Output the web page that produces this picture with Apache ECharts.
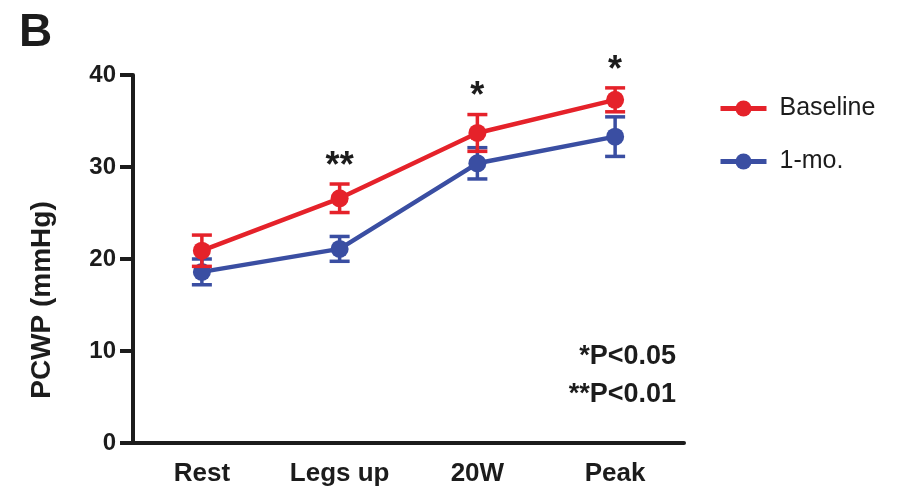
<!DOCTYPE html>
<html><head><meta charset="utf-8">
<script src="https://cdn.jsdelivr.net/npm/echarts@6/dist/echarts.min.js"></script>
<style>html,body{margin:0;padding:0;background:#fff}#c{width:906px;height:487px}</style>
</head><body><div id="c"></div>
<script>
const categories = ['Rest', 'Legs up', '20W', 'Peak'];
const baselineMean = [20.9, 26.6, 33.7, 37.3];
const baselineErr = [1.7, 1.55, 2.0, 1.3];
const monthMean = [18.6, 21.1, 30.4, 33.3];
const monthErr = [1.4, 1.35, 1.7, 2.15];
const sigMarks = ['', '**', '*', '*'];
const seriesNames = ['Baseline', '1-mo.'];
const yMin = 0, yMax = 40, yStep = 10;
const pNotes = ['*P<0.05', '**P<0.01'];
const yTitle = 'PCWP (mmHg)';
const panelLetter = 'B';

const RED = '#e5222a', BLUE = '#3a4ea2', INK = '#1c1c1c';
const FONT = '"Liberation Sans", Arial, sans-serif';

function errData(mean, err) {
  return mean.map((m, i) => [i, m - err[i], m + err[i]]);
}

function makeErrRender(color, withSig) {
  return function (params, api) {
    const i = api.value(0);
    const pTop = api.coord([i, api.value(2)]);
    const pBot = api.coord([i, api.value(1)]);
    const x = pTop[0];
    const hw = 10;
    const st = { stroke: color, lineWidth: 3.5 };
    const children = [
      { type: 'line', shape: { x1: x, y1: pTop[1], x2: x, y2: pBot[1] }, style: st },
      { type: 'line', shape: { x1: x - hw, y1: pTop[1], x2: x + hw, y2: pTop[1] }, style: st },
      { type: 'line', shape: { x1: x - hw, y1: pBot[1], x2: x + hw, y2: pBot[1] }, style: st }
    ];
    if (withSig && sigMarks[i]) {
      children.push({
        type: 'text',
        style: {
          text: sigMarks[i], x: x, y: pTop[1] - 17,
          align: 'center', verticalAlign: 'middle',
          font: 'bold 36px ' + FONT, fill: INK
        }
      });
    }
    return { type: 'group', children: children };
  };
}

const chart = echarts.init(document.getElementById('c'));
chart.setOption({
  animation: false,
  backgroundColor: '#fff',
  grid: { left: 133, right: 222, top: 75, bottom: 44, containLabel: false },
  xAxis: {
    type: 'category',
    data: categories,
    boundaryGap: true,
    axisLine: { lineStyle: { color: INK, width: 4 } },
    axisTick: { alignWithLabel: true, length: 13, lineStyle: { color: INK, width: 4 } },
    axisLabel: { margin: 18, fontSize: 26, fontWeight: 'bold', color: INK, fontFamily: FONT }
  },
  yAxis: {
    type: 'value',
    min: yMin, max: yMax, interval: yStep,
    axisLine: { show: true, lineStyle: { color: INK, width: 4 } },
    axisTick: { show: true, length: 13, lineStyle: { color: INK, width: 4 } },
    axisLabel: { margin: 17, fontSize: 24, fontWeight: 'bold', color: INK, fontFamily: FONT },
    splitLine: { show: false }
  },
  legend: {
    data: seriesNames,
    orient: 'vertical',
    left: 713, top: 91,
    itemWidth: 46, itemHeight: 20, itemGap: 28,
    lineStyle: { width: 5 },
    textStyle: { fontSize: 25, color: INK, fontFamily: FONT, padding: [0, 0, 0, 8] }
  },
  graphic: [
    { type: 'text', left: 19, top: 10, style: { text: panelLetter, font: 'bold 46px ' + FONT, fill: INK } },
    { type: 'text', x: 42, y: 300, rotation: Math.PI / 2,
      style: { text: yTitle, font: 'bold 28px ' + FONT, fill: INK, align: 'center', verticalAlign: 'middle' } },
    { type: 'text', x: 676, y: 357, style: { text: pNotes[0], font: 'bold 27px ' + FONT, fill: INK, align: 'right', verticalAlign: 'middle' } },
    { type: 'text', x: 676, y: 395, style: { text: pNotes[1], font: 'bold 27px ' + FONT, fill: INK, align: 'right', verticalAlign: 'middle' } }
  ],
  series: [
    {
      name: '1-mo. SEM', type: 'custom', renderItem: makeErrRender(BLUE, false),
      data: errData(monthMean, monthErr), encode: { x: 0, y: [1, 2] }, z: 2
    },
    {
      name: seriesNames[1], type: 'line', data: monthMean,
      symbol: 'circle', symbolSize: 18,
      lineStyle: { color: BLUE, width: 4.5 }, itemStyle: { color: BLUE }, z: 3
    },
    {
      name: 'Baseline SEM', type: 'custom', renderItem: makeErrRender(RED, true),
      data: errData(baselineMean, baselineErr), encode: { x: 0, y: [1, 2] }, z: 4
    },
    {
      name: seriesNames[0], type: 'line', data: baselineMean,
      symbol: 'circle', symbolSize: 18,
      lineStyle: { color: RED, width: 4.5 }, itemStyle: { color: RED }, z: 5
    }
  ]
});
</script></body></html>
